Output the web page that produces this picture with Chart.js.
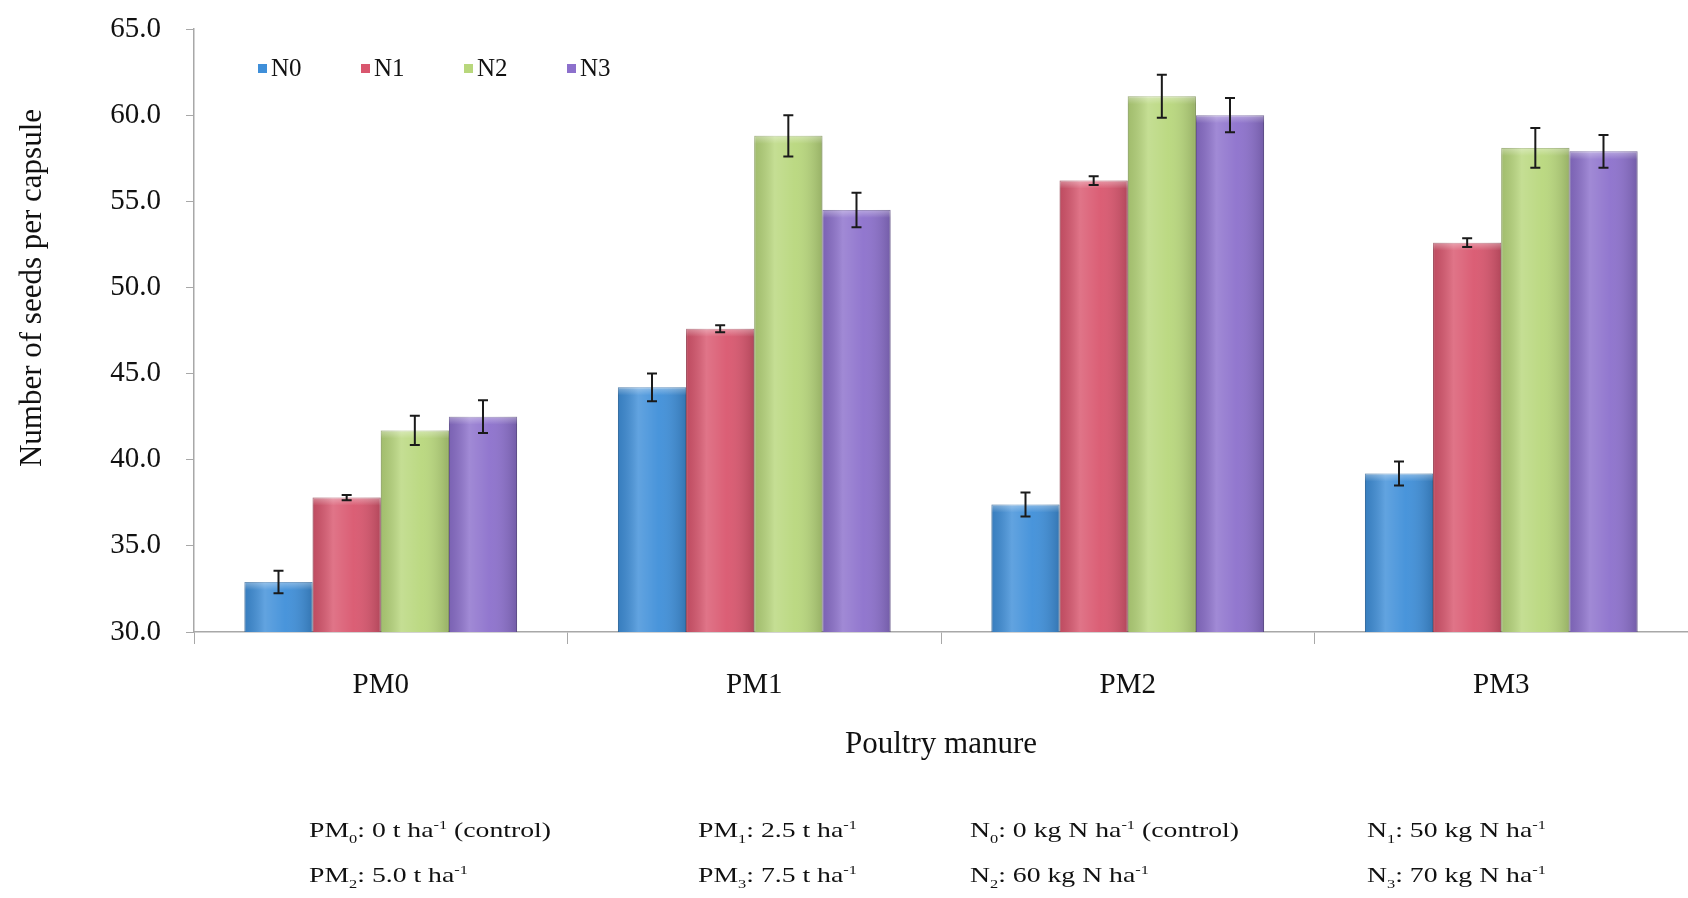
<!DOCTYPE html>
<html>
<head>
<meta charset="utf-8">
<script src="https://cdn.jsdelivr.net/npm/chart.js@4.4.1/dist/chart.umd.min.js"></script>
<style>
  body { margin: 0; background: #fff; }
  #wrap { position: relative; width: 1688px; height: 898px; }
  #notes { position: absolute; left: 0; top: 0; width: 1688px; height: 898px; pointer-events: none;
           font-family: "Liberation Serif", serif; font-size: 22px; color: #111; }
  #notes span { position: absolute; white-space: nowrap; transform: translateY(-50%) scaleX(1.26); transform-origin: left center; }
  #notes sub, #notes sup { font-size: 13px; }
</style>
</head>
<body>
<div id="wrap">
  <canvas id="seeds" width="1688" height="898"></canvas>
  <div id="notes">
    <span style="left:309px;top:832px">PM<sub>0</sub>: 0 t ha<sup>-1</sup> (control)</span>
    <span style="left:698px;top:832px">PM<sub>1</sub>: 2.5 t ha<sup>-1</sup></span>
    <span style="left:970px;top:832px">N<sub>0</sub>: 0 kg N ha<sup>-1</sup> (control)</span>
    <span style="left:1367px;top:832px">N<sub>1</sub>: 50 kg N ha<sup>-1</sup></span>
    <span style="left:309px;top:877px">PM<sub>2</sub>: 5.0 t ha<sup>-1</sup></span>
    <span style="left:698px;top:877px">PM<sub>3</sub>: 7.5 t ha<sup>-1</sup></span>
    <span style="left:970px;top:877px">N<sub>2</sub>: 60 kg N ha<sup>-1</sup></span>
    <span style="left:1367px;top:877px">N<sub>3</sub>: 70 kg N ha<sup>-1</sup></span>
  </div>
</div>
<script>
const manure = ['PM0', 'PM1', 'PM2', 'PM3']
const n0 = [32.9, 44.2, 37.4, 39.2]
const n1 = [37.8, 47.6, 56.2, 52.6]
const n2 = [41.7, 58.8, 61.1, 58.1]
const n3 = [42.5, 54.5, 60.0, 57.9]
const n0Err = [0.65, 0.8, 0.7, 0.7]
const n1Err = [0.15, 0.2, 0.25, 0.25]
const n2Err = [0.85, 1.2, 1.25, 1.15]
const n3Err = [0.95, 1.0, 1.0, 0.95]

const serif = '"Liberation Serif", "Times New Roman", serif'

// shading on the bars, then error bars on top
const errorBars = {
    id: 'errorBars',
    afterDatasetsDraw(chart) {
        const ctx = chart.ctx
        const y = chart.scales.y
        const bottom = chart.chartArea.bottom
        ctx.save()
        chart.data.datasets.forEach((ds, i) => {
            chart.getDatasetMeta(i).data.forEach((bar) => {
                const l = bar.x - bar.width / 2, w = bar.width
                const h = bottom - bar.y
                const g = ctx.createLinearGradient(l, 0, l + w, 0)
                g.addColorStop(0, 'rgba(0,0,0,0.12)')
                g.addColorStop(0.3, 'rgba(255,255,255,0.18)')
                g.addColorStop(0.6, 'rgba(255,255,255,0.05)')
                g.addColorStop(1, 'rgba(0,0,0,0.18)')
                ctx.fillStyle = g
                ctx.fillRect(l, bar.y, w, h)
                const t = ctx.createLinearGradient(0, bar.y, 0, bar.y + 8)
                t.addColorStop(0, 'rgba(255,255,255,0.35)')
                t.addColorStop(1, 'rgba(255,255,255,0)')
                ctx.fillStyle = t
                ctx.fillRect(l, bar.y, w, 8)
            })
        })
        ctx.strokeStyle = '#1a1a1a'
        ctx.lineWidth = 2
        chart.data.datasets.forEach((ds, i) => {
            chart.getDatasetMeta(i).data.forEach((bar, j) => {
                const v = ds.data[j], e = ds.errors[j]
                const top = y.getPixelForValue(v + e)
                const bot = y.getPixelForValue(v - e)
                ctx.beginPath()
                ctx.moveTo(bar.x, top); ctx.lineTo(bar.x, bot)
                ctx.moveTo(bar.x - 5, top); ctx.lineTo(bar.x + 5, top)
                ctx.moveTo(bar.x - 5, bot); ctx.lineTo(bar.x + 5, bot)
                ctx.stroke()
            })
        })
        ctx.restore()
    }
}

// legend inside the plot, and rotated y title
const extras = {
    id: 'extras',
    afterDraw(chart) {
        const ctx = chart.ctx
        ctx.save()
        ctx.font = '25px ' + serif
        ctx.textBaseline = 'middle'
        chart.data.datasets.forEach((ds, i) => {
            const x = 258 + i * 103
            ctx.fillStyle = ds.backgroundColor
            ctx.fillRect(x, 64, 9, 9)
            ctx.fillStyle = '#111'
            ctx.fillText(ds.label, x + 13, 69)
        })
        ctx.translate(33, 288)
        ctx.rotate(-Math.PI / 2)
        ctx.textAlign = 'center'
        ctx.font = '31px ' + serif
        ctx.fillText('Number of seeds per capsule', 0, 0)
        ctx.restore()
    }
}

window.addEventListener('load', () => {
    const el = document.getElementById('seeds')

    new Chart(el, {
        type: 'bar',
        data: {
            labels: manure,
            datasets: [
                { label: 'N0', data: n0, errors: n0Err, backgroundColor: '#3f8fd9', borderColor: '#2d6fae' },
                { label: 'N1', data: n1, errors: n1Err, backgroundColor: '#d9566e', borderColor: '#a83d52' },
                { label: 'N2', data: n2, errors: n2Err, backgroundColor: '#b8d77c', borderColor: '#8fab58' },
                { label: 'N3', data: n3, errors: n3Err, backgroundColor: '#8c70cc', borderColor: '#65509c' }
            ]
        },
        options: {
            responsive: false,
            animation: false,
            categoryPercentage: 0.73,
            barPercentage: 1.0,
            borderWidth: 1,
            layout: { padding: { top: 29, right: 0, bottom: 135, left: 0 } },
            plugins: {
                legend: { display: false },
                tooltip: { enabled: false }
            },
            scales: {
                x: {
                    grid: { offset: true, drawOnChartArea: false, tickLength: 12, color: '#a8a8a8' },
                    border: { color: '#a8a8a8', width: 1.5 },
                    ticks: { font: { family: serif, size: 29 }, color: '#111', padding: 24 },
                    title: { display: true, text: 'Poultry manure', font: { family: serif, size: 31 }, color: '#111', padding: 0 },
                    afterFit: (s) => { s.height = 131 }
                },
                y: {
                    min: 30,
                    max: 65,
                    grid: { drawOnChartArea: false, tickLength: 8, color: '#a8a8a8' },
                    border: { color: '#a8a8a8', width: 1.5 },
                    ticks: {
                        stepSize: 5,
                        font: { family: serif, size: 29 },
                        color: '#111',
                        padding: 25,
                        callback: (v) => v.toFixed(1)
                    },
                    afterFit: (s) => { s.width = 194; s.paddingTop = 0; s.paddingBottom = 0 }
                }
            }
        },
        plugins: [errorBars, extras]
    })
})
</script>
</body>
</html>
